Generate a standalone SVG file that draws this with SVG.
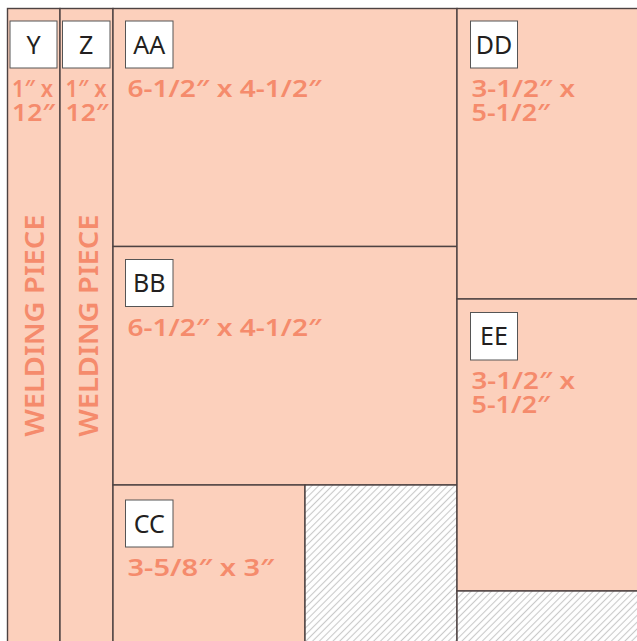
<svg xmlns="http://www.w3.org/2000/svg" width="637" height="641" viewBox="0 0 637 641">
<defs>
<pattern id="hatch" patternUnits="userSpaceOnUse" width="4.8" height="4.8" patternTransform="rotate(45)">
<rect width="4.8" height="4.8" fill="#ffffff"/>
<line x1="2.4" y1="0" x2="2.4" y2="4.8" stroke="#c9c9c9" stroke-width="1.1"/>
</pattern>
<style>
.piece{fill:#fcd0bc;stroke:#4d4242;stroke-width:1.4}
.waste{fill:url(#hatch);stroke:#4d4242;stroke-width:1.4}
.tag{fill:#ffffff;stroke:#555555;stroke-width:1}
.tagt{font-family:"Noto Sans","DejaVu Sans",sans-serif;font-size:25px;fill:#231f20;text-anchor:middle}
.dim{font-family:"Noto Sans","DejaVu Sans",sans-serif;font-size:24px;font-weight:600;fill:#f58b6c}
.weld{font-family:"Noto Sans","DejaVu Sans",sans-serif;font-size:27px;font-weight:600;fill:#f58b6c}
</style>
</defs>
<rect width="637" height="641" fill="#ffffff"/>
<g id="Y">
<rect class="piece" x="7.5" y="8.5" width="52.5" height="700"/>
<rect class="tag" x="10" y="21" width="47" height="47"/>
<text class="tagt" x="33.5" y="53.5">Y</text>
<text class="dim" x="12" y="96.5" textLength="41" lengthAdjust="spacingAndGlyphs">1″ x</text>
<text class="dim" x="12" y="120.5" textLength="43" lengthAdjust="spacingAndGlyphs">12″</text>
<text class="weld" transform="translate(44.3,436.7) rotate(-90)" textLength="222" lengthAdjust="spacingAndGlyphs">WELDING PIECE</text>
</g>
<g id="Z">
<rect class="piece" x="60" y="8.5" width="53" height="700"/>
<rect class="tag" x="62.5" y="21" width="47.5" height="47"/>
<text class="tagt" x="86.2" y="53.5">Z</text>
<text class="dim" x="65.5" y="96.5" textLength="41" lengthAdjust="spacingAndGlyphs">1″ x</text>
<text class="dim" x="65.5" y="120.5" textLength="43" lengthAdjust="spacingAndGlyphs">12″</text>
<text class="weld" transform="translate(97.7,436.7) rotate(-90)" textLength="222" lengthAdjust="spacingAndGlyphs">WELDING PIECE</text>
</g>
<g id="AA">
<rect class="piece" x="113" y="8.5" width="344" height="238"/>
<rect class="tag" x="125.5" y="21" width="47.5" height="47"/>
<text class="tagt" x="149.2" y="53.5">AA</text>
<text class="dim" x="127.5" y="96.5" textLength="194" lengthAdjust="spacingAndGlyphs">6-1/2″ x 4-1/2″</text>
</g>
<g id="BB">
<rect class="piece" x="113" y="246.5" width="344" height="238.5"/>
<rect class="tag" x="125.5" y="259.5" width="47.5" height="47"/>
<text class="tagt" x="149.2" y="292">BB</text>
<text class="dim" x="127.5" y="336" textLength="194" lengthAdjust="spacingAndGlyphs">6-1/2″ x 4-1/2″</text>
</g>
<g id="CC">
<rect class="piece" x="113" y="485" width="192" height="300"/>
<rect class="tag" x="125.5" y="500" width="47.5" height="47"/>
<text class="tagt" x="149.2" y="532.5">CC</text>
<text class="dim" x="127.5" y="576" textLength="146.5" lengthAdjust="spacingAndGlyphs">3-5/8″ x 3″</text>
</g>
<g id="waste1">
<rect class="waste" x="305" y="485" width="152" height="300"/>
</g>
<g id="DD">
<rect class="piece" x="457" y="8.5" width="300" height="290.5"/>
<rect class="tag" x="470.5" y="21" width="47" height="47"/>
<text class="tagt" x="494" y="53.5">DD</text>
<text class="dim" x="471.5" y="96.5" textLength="103.5" lengthAdjust="spacingAndGlyphs">3-1/2″ x</text>
<text class="dim" x="471.5" y="120.5" textLength="78.5" lengthAdjust="spacingAndGlyphs">5-1/2″</text>
</g>
<g id="EE">
<rect class="piece" x="457" y="299" width="300" height="292"/>
<rect class="tag" x="470.5" y="312.5" width="47" height="47.5"/>
<text class="tagt" x="494" y="345">EE</text>
<text class="dim" x="471.5" y="389" textLength="103.5" lengthAdjust="spacingAndGlyphs">3-1/2″ x</text>
<text class="dim" x="471.5" y="413.3" textLength="78.5" lengthAdjust="spacingAndGlyphs">5-1/2″</text>
</g>
<g id="waste2">
<rect class="waste" x="457" y="591" width="300" height="100"/>
</g>
<g id="connectors"/>
</svg>
